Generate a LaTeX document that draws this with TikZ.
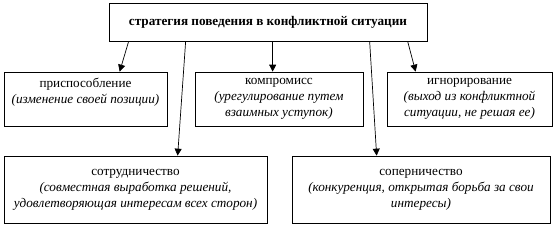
\documentclass[tikz,border=0pt]{standalone}
\usepackage{fontspec}
\setmainfont{Liberation Serif}
\usetikzlibrary{arrows.meta}
\begin{document}
\begin{tikzpicture}[x=1pt, y=-1pt, >={Triangle[width=7pt,length=7pt]},
    box/.style={draw, line width=0.7pt, inner sep=0pt, align=center,
      font=\fontsize{13.2}{16}\selectfont}]
    \useasboundingbox (0,0) rectangle (555,233);

    % главный блок
    \node[box, minimum width=318pt, minimum height=38pt, font=\fontsize{13.2}{16}\selectfont\bfseries] (top) at (268, 22) {стратегия поведения в конфликтной ситуации};

    % первый ряд
    \node[box, minimum width=163pt, minimum height=54pt] (adapt) at (85.5, 99) {приспособление\\\textit{(изменение своей позиции)}\\\mbox{}};
    \node[box, minimum width=168pt, minimum height=54pt] (compromise) at (279, 99) {компромисс\\\textit{(урегулирование путем}\\\textit{взаимных уступок)}};
    \node[box, minimum width=165pt, minimum height=54pt] (ignore) at (469.5, 99) {игнорирование\\\textit{(выход из конфликтной}\\\textit{ситуации, не решая ее)}};

    % второй ряд
    \node[box, minimum width=263pt, minimum height=67pt] (cooperate) at (135.5, 189.5) {сотрудничество\\\textit{(совместная выработка решений,}\\\textit{удовлетворяющая интересам всех сторон)}};
    \node[box, minimum width=258pt, minimum height=67pt] (rival) at (421, 189.5) {соперничество\\\textit{(конкуренция, открытая борьба за свои}\\\textit{интересы)}};

    % стрелки
    \draw[->, line width=0.7pt] ([xshift=20pt]top.south west) -- ([xshift=116pt]adapt.north west);
    \draw[->, line width=0.7pt] ([xshift=77pt]top.south west) -- ([xshift=174pt]cooperate.north west);
    \draw[->, line width=0.7pt] ([xshift=164pt]top.south west) -- ([xshift=78pt]compromise.north west);
    \draw[->, line width=0.7pt] ([xshift=261pt]top.south west) -- ([xshift=85pt]rival.north west);
    \draw[->, line width=0.7pt] ([xshift=299pt]top.south west) -- ([xshift=29pt]ignore.north west);

\end{tikzpicture}
\end{document}
